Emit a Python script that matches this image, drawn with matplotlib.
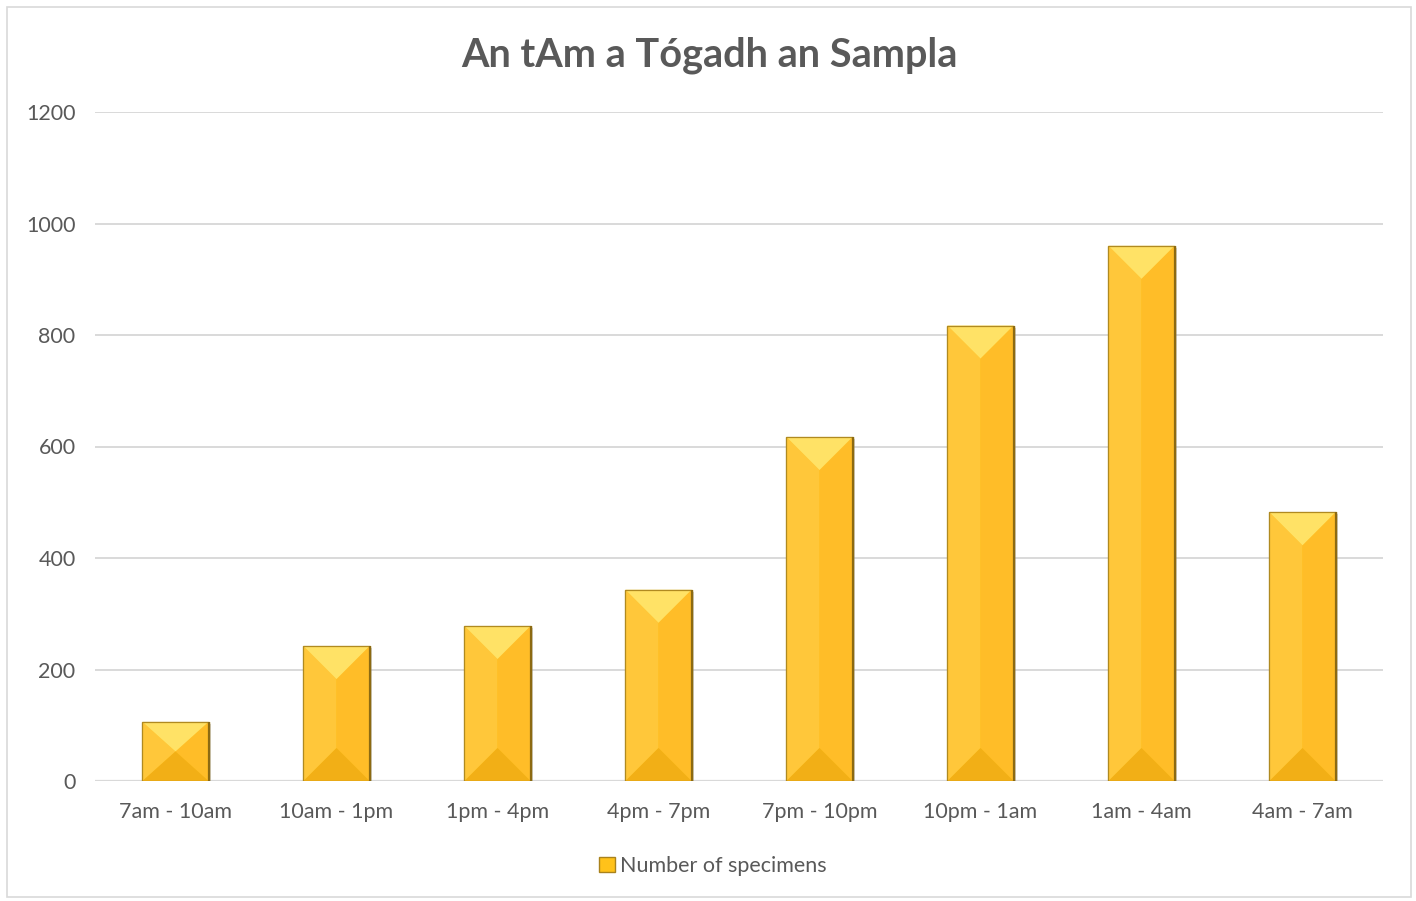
import matplotlib.pyplot as plt
import matplotlib.patheffects as pe
from matplotlib.patches import Polygon, Rectangle, Patch
import numpy as np

categories = ["7am - 10am", "10am - 1pm", "1pm - 4pm", "4pm - 7pm",
              "7pm - 10pm", "10pm - 1am", "1am - 4am", "4am - 7am"]
specimens = [106, 242, 278, 343, 617, 817, 960, 482]
series_name = "Number of specimens"
title = "An tAm a Tógadh an Sampla"

plt.rcParams['font.family'] = ['Lato', 'DejaVu Sans']
txt = '#595959'
grid = '#D9D9D9'

W, H = 1416, 901
fig = plt.figure(figsize=(W / 100, H / 100), dpi=100)
fig.patches.append(Rectangle((7 / W, 4 / H), 1404 / W, 890 / H, transform=fig.transFigure,
                             fill=False, edgecolor=grid, lw=1.2))

ax_l, ax_r, ax_b, ax_t = 95, 1383, 781, 112
ax = fig.add_axes([ax_l / W, (H - ax_b) / H, (ax_r - ax_l) / W, (ax_b - ax_t) / H])
ax.set_xlim(-0.5, len(categories) - 0.5)
ax.set_ylim(0, 1200)
ax.set_yticks(np.arange(0, 1201, 200))
ax.yaxis.grid(True, color=grid, lw=1.4)
ax.set_axisbelow(True)
for s in ax.spines.values():
    s.set_visible(False)
ax.tick_params(axis='both', length=0, labelsize=15.5, labelcolor=txt)
ax.tick_params(axis='y', pad=14)
ax.tick_params(axis='x', pad=15)
x = np.arange(len(categories))
ax.set_xticks(x)
ax.set_xticklabels(categories)

width = 0.41
bars = ax.bar(x, specimens, width=width, color='#FFC21A', edgecolor='#A9821C', lw=0.8, zorder=3,
              path_effects=[pe.SimplePatchShadow(offset=(1.5, -1.5), shadow_rgbFace='#888888', alpha=0.35),
                            pe.Normal()])

# bevel facets, 45 degrees in screen space
px_x = (ax_r - ax_l) / len(categories)
px_y = (ax_b - ax_t) / 1200
for r in bars:
    x0, w, h = r.get_x(), r.get_width(), r.get_height()
    x1, xc = x0 + w, x0 + w / 2
    b = min((w * px_x / 2) / px_y, h / 2)
    faces = [
        ([(x0, 0), (x0, h), (xc, h - b), (xc, b)], '#FFC73A'),
        ([(x1, 0), (x1, h), (xc, h - b), (xc, b)], '#FFBD28'),
        ([(x0, h), (x1, h), (xc, h - b)], '#FFE266'),
        ([(x0, 0), (x1, 0), (xc, b)], '#F2AF16'),
    ]
    for pts, c in faces:
        ax.add_patch(Polygon(pts, closed=True, facecolor=c, edgecolor='none', zorder=4))
    ax.add_patch(Rectangle((x0, 0), w, h, fill=False, edgecolor='#B08A20', lw=0.9, zorder=5))
    ax.plot([x1, x1], [0, h], color='#8C6A12', lw=1.6, zorder=5, solid_capstyle='butt')

ax.axhline(0, color=grid, lw=1.6, zorder=2)

fig.text(709 / W, 1 - 55 / H, title, ha='center', va='center', fontsize=28.5, fontweight='bold', color=txt)

leg = fig.legend(handles=[Patch(facecolor='#FFC21A', edgecolor='#A9821C')], labels=[series_name],
                 loc='center', bbox_to_anchor=(713 / W, 1 - 866 / H), frameon=False, fontsize=15.5,
                 handlelength=0.75, handleheight=0.75, handletextpad=0.25, labelcolor=txt)

fig.savefig('out.png', dpi=100)
